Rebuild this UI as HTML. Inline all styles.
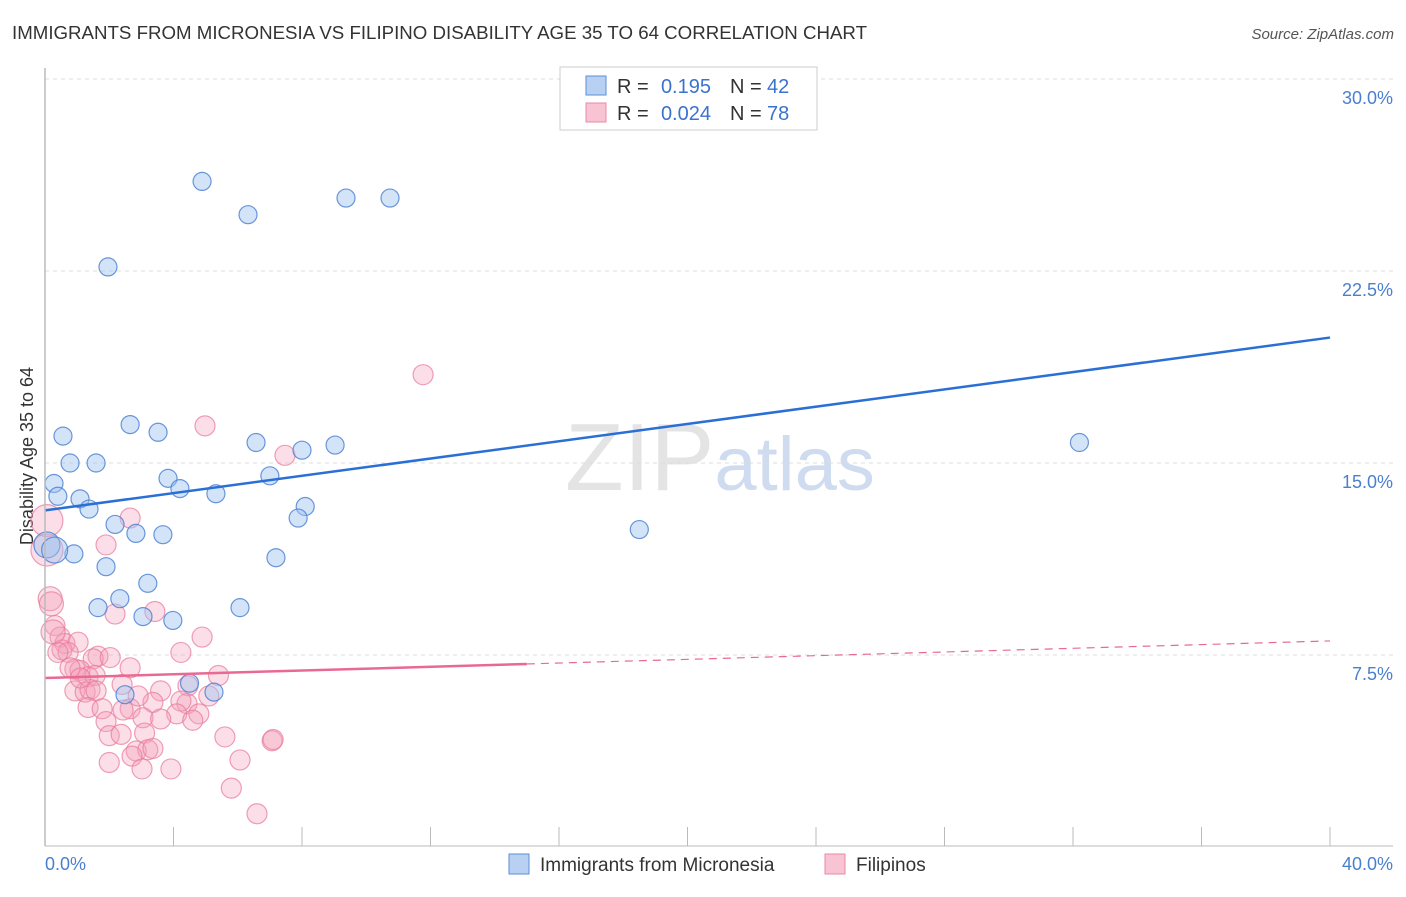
<!DOCTYPE html>
<html><head><meta charset="utf-8"><style>
body{margin:0;background:#fff;font-family:"Liberation Sans",sans-serif;}
svg text{font-family:"Liberation Sans",sans-serif;}
</style></head><body>
<svg id="chart" width="1406" height="892" viewBox="0 0 1406 892">
<text x="12" y="39" font-size="18.6" fill="#333" textLength="855" lengthAdjust="spacingAndGlyphs">IMMIGRANTS FROM MICRONESIA VS FILIPINO DISABILITY AGE 35 TO 64 CORRELATION CHART</text>
<text x="1394" y="39" font-size="15" fill="#555" text-anchor="end" font-style="italic">Source: ZipAtlas.com</text>
<text x="720" y="490" font-size="96" text-anchor="middle" fill="#e4e4e4" font-family="Liberation Serif">ZIP<tspan fill="#cfdcf0" font-family="Liberation Sans" font-size="76">atlas</tspan></text>
<text transform="translate(33,456) rotate(-90)" font-size="18" fill="#333" text-anchor="middle">Disability Age 35 to 64</text>
<g id="grid"></g><g id="ticks"></g><g id="pts"></g><g id="lines"></g>
<line x1="45" y1="68" x2="45" y2="846" stroke="#bbb" stroke-width="1.5"/>
<line x1="45" y1="846" x2="1393" y2="846" stroke="#bbb" stroke-width="1"/>
<g>
<rect x="560" y="67" width="257" height="63" fill="#fff" stroke="#ccc"/>
<rect x="586" y="76" width="20" height="19" fill="#b8d0f2" stroke="#5b8fd8"/>
<rect x="586" y="103" width="20" height="19" fill="#f8c4d3" stroke="#e98aa8"/>
<text x="617" y="93" font-size="20" fill="#333">R =</text>
<text x="711" y="93" font-size="20" fill="#3a72d0" text-anchor="end">0.195</text>
<text x="730" y="93" font-size="20" fill="#333">N =</text>
<text x="767" y="93" font-size="20" fill="#3a72d0">42</text>
<text x="617" y="120" font-size="20" fill="#333">R =</text>
<text x="711" y="120" font-size="20" fill="#3a72d0" text-anchor="end">0.024</text>
<text x="730" y="120" font-size="20" fill="#333">N =</text>
<text x="767" y="120" font-size="20" fill="#3a72d0">78</text>
</g>
<g>
<rect x="509" y="854" width="20" height="20" fill="#b8d0f2" stroke="#5b8fd8"/>
<text x="540" y="871" font-size="19" fill="#333">Immigrants from Micronesia</text>
<rect x="825" y="854" width="20" height="20" fill="#f8c4d3" stroke="#e98aa8"/>
<text x="856" y="871" font-size="19" fill="#333">Filipinos</text>
</g>
</svg>
<script>
const yTicks=[7.5,15,22.5,30];
const yTickLabels=["7.5%","15.0%","22.5%","30.0%"];
const xTickLabels=["0.0%","40.0%"];
const blueX=[4.89,6.32,9.37,10.74,1.96,2.65,3.52,0.56,6.57,8.0,9.03,32.2,0.78,1.59,0.28,3.83,7.0,4.2,5.32,0.4,1.09,1.37,8.1,7.88,2.18,2.83,3.67,18.5,0.06,0.9,7.19,1.9,3.2,2.33,1.65,6.07,3.05,3.98,4.5,5.26,2.49,0.3];
const blueY=[26.0,24.7,25.35,25.35,22.66,16.5,16.2,16.05,15.8,15.5,15.7,15.8,15.0,15.0,14.2,14.4,14.5,14.0,13.8,13.7,13.6,13.2,13.3,12.85,12.6,12.25,12.2,12.4,11.8,11.45,11.3,10.95,10.3,9.7,9.35,9.35,9.0,8.85,6.4,6.05,5.95,11.6];
const pinkX=[11.77,4.98,7.47,2.65,1.9,0.06,0.06,0.16,3.42,2.18,4.89,0.31,0.47,0.62,1.03,0.53,0.72,0.4,4.23,1.65,1.5,2.03,2.65,0.93,1.09,0.78,5.4,1.34,1.56,2.4,4.45,3.6,0.93,1.25,1.4,1.59,5.1,3.36,4.42,4.23,2.65,2.43,1.34,1.78,4.1,4.79,3.05,1.9,5.6,2.0,2.37,3.1,7.07,7.1,2.84,3.2,3.36,2.71,6.07,2.0,3.02,3.92,5.8,6.6,0.2,0.25,1.1,2.9,3.6,4.6];
const pinkY=[18.45,16.45,15.3,12.85,11.8,12.75,11.6,9.7,9.2,9.1,8.2,8.65,8.2,7.95,8.0,7.7,7.6,7.6,7.6,7.45,7.35,7.4,7.0,6.95,6.9,7.0,6.7,6.65,6.7,6.35,6.3,6.1,6.1,6.05,6.15,6.1,5.9,5.65,5.6,5.7,5.4,5.35,5.45,5.4,5.2,5.2,5.05,4.9,4.3,4.35,4.4,4.45,4.15,4.2,3.75,3.8,3.85,3.55,3.4,3.3,3.05,3.05,2.3,1.3,9.5,8.4,6.6,5.9,5.0,4.95];
const blueTrend=[[0,13.15],[40,19.9]];
const pinkTrend=[[0,6.6],[15,7.15],[40,8.05]];
const xs=v=>45+v/40*1285, ys=v=>847-v/7.5*192;
const NS="http://www.w3.org/2000/svg";
function mk(t,a,p){const e=document.createElementNS(NS,t);for(const k in a)e.setAttribute(k,a[k]);document.getElementById(p).appendChild(e);return e;}
yTicks.forEach((t,i)=>{
 const g=mk('line',{x1:45,x2:1393,y1:ys(t),y2:ys(t),stroke:'#ddd','stroke-dasharray':'4,4'},'grid');
 
 
 const l=mk('text',{x:1393,y:ys(t)+25,'font-size':18,fill:'#4a7fd0','text-anchor':'end'},'grid');
 l.textContent=yTickLabels[i];
 
 
});
for(let i=0;i<=10;i++){
 const t=mk('line',{x1:xs(i*4),x2:xs(i*4),y1:827,y2:846,stroke:'#bbb'},'ticks');
 
 
}
[[0,'start',45],[40,'end',1393]].forEach((d,i)=>{
 const l=mk('text',{x:d[2],y:870,'font-size':18,fill:'#4a7fd0','text-anchor':d[1]},'ticks');
 l.textContent=xTickLabels[i];
 
 
});
pinkX.forEach((x,i)=>{
 const r=(x<0.3)?(i<7?16:12):10;
 const c=mk('circle',{cx:xs(x),cy:ys(pinkY[i]),r:r,fill:'rgba(244,160,186,0.35)',stroke:'rgba(232,120,155,0.7)','stroke-width':1.2},'pts');
 
 
});
blueX.forEach((x,i)=>{
 const r=(x<0.35&&blueY[i]<12)?13:(i==28?12:9);
 const c=mk('circle',{cx:xs(x),cy:ys(blueY[i]),r:r,fill:'rgba(160,195,240,0.45)',stroke:'rgba(70,125,210,0.8)','stroke-width':1.2},'pts');
 
 
});
const bl=mk('line',{x1:xs(blueTrend[0][0]),y1:ys(blueTrend[0][1]),x2:xs(blueTrend[1][0]),y2:ys(blueTrend[1][1]),stroke:'#2a6fd6','stroke-width':2.5},'lines');


const pl=mk('line',{x1:xs(pinkTrend[0][0]),y1:ys(pinkTrend[0][1]),x2:xs(pinkTrend[1][0]),y2:ys(pinkTrend[1][1]),stroke:'#e86a92','stroke-width':2.5},'lines');


const pd=mk('line',{x1:xs(pinkTrend[1][0]),y1:ys(pinkTrend[1][1]),x2:xs(pinkTrend[2][0]),y2:ys(pinkTrend[2][1]),stroke:'#e86a92','stroke-width':1.2,'stroke-dasharray':'8,6'},'lines');


</script>
</body></html>
